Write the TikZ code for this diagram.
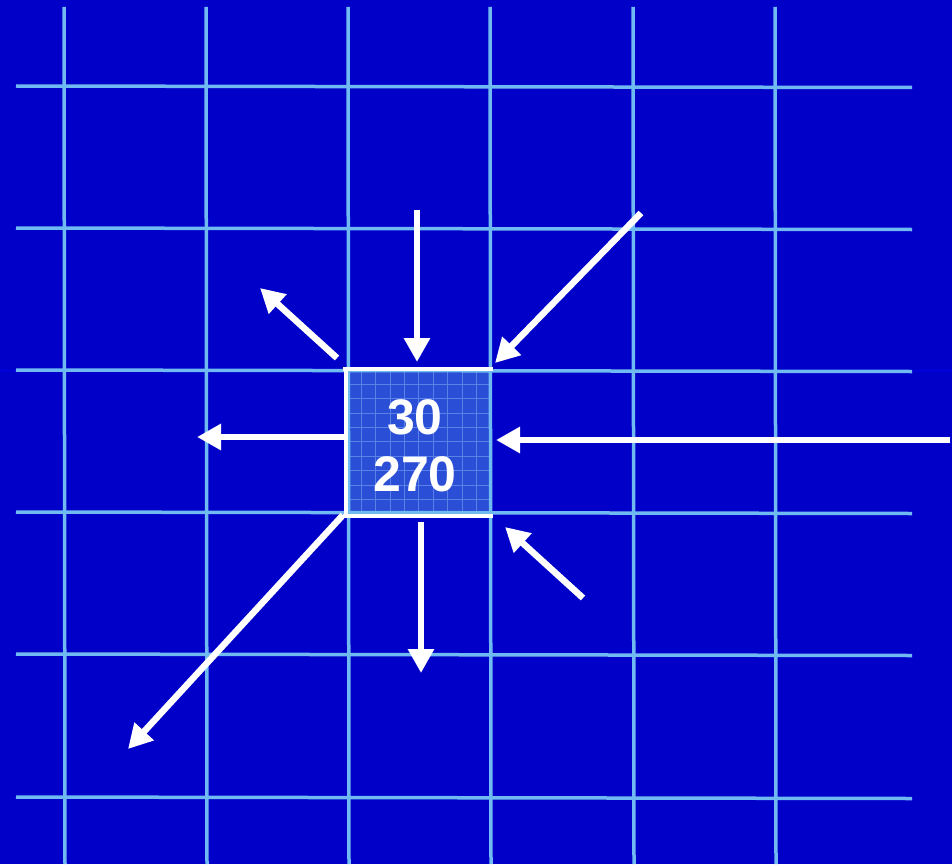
\documentclass[tikz,border=0pt]{standalone}
\usepackage{fontspec}
\setmainfont{Liberation Sans}
\usetikzlibrary{arrows.meta}
\definecolor{bg}{RGB}{0,0,200}
\definecolor{gridc}{RGB}{112,186,242}
\definecolor{cellc}{RGB}{42,78,214}
\definecolor{finegrid}{RGB}{90,130,230}
\begin{document}
\begin{tikzpicture}[x=1pt,y=-1pt,
  gridline/.style={gridc, line width=3.5pt},
  cellborder/.style={white, line width=4pt},
  arr/.style={white, line width=6.5pt, -{Triangle[length=24pt,width=25pt]}},
  num/.style={text=white, font=\fontsize{50}{50}\selectfont\bfseries, inner sep=0pt}]
\fill[bg] (0,0) rectangle (952,864);
\useasboundingbox (0,0) rectangle (952,864);
% faint full-width line
\draw[RGB/.style={}, color=blue!60!bg, line width=0.8pt] (0,370) -- (952,370);
% cell
\node[fill=cellc, minimum width=144pt, minimum height=144pt, inner sep=0pt] (cell) at (419,442) {};
\foreach \i in {1,...,9}{
  \draw[finegrid, line width=0.7pt] ([xshift=\i*14.4pt]cell.north west) -- ([xshift=\i*14.4pt]cell.south west);
  \draw[finegrid, line width=0.7pt] ([yshift=-\i*14.4pt]cell.north west) -- ([yshift=-\i*14.4pt]cell.north east);
}
% main grid
\foreach \x in {64,206,348,490,633,775}{
  \draw[gridline] (\x,7) -- (\x+1,864);
}
\foreach \y in {86,228,370,512,654,797}{
  \draw[gridline] (16,\y) -- (912,\y+1.5);
}
% white cell borders
\draw[cellborder] (343,368.5) -- (493,368.5);
\draw[cellborder] (345.5,367) -- (345.5,518);
\draw[cellborder] (343,516) -- (493,516);
% numbers
\node[num] (t30) at (415,417) {30};
\node[num] (t270) at (415,474) {270};
% arrows
\coordinate (a1s) at (417,210);  \coordinate (a1e) at (417,362);
\coordinate (a2s) at (641,213);  \coordinate (a2e) at (495,363);
\coordinate (a3s) at (337,358);  \coordinate (a3e) at (260,288);
\coordinate (a4s) at (344,437);  \coordinate (a4e) at (197,437);
\coordinate (a5s) at (950,440);  \coordinate (a5e) at (496,440);
\coordinate (a6s) at (343,515);  \coordinate (a6e) at (128,749);
\coordinate (a7s) at (421,522);  \coordinate (a7e) at (421,673);
\coordinate (a8s) at (583,598);  \coordinate (a8e) at (505,527);
\draw[arr] (a1s) -- (a1e);
\draw[arr] (a2s) -- (a2e);
\draw[arr] (a3s) -- (a3e);
\draw[arr] (a4s) -- (a4e);
\draw[arr] (a5s) -- (a5e);
\draw[arr] (a6s) -- (a6e);
\draw[arr] (a7s) -- (a7e);
\draw[arr] (a8s) -- (a8e);
\end{tikzpicture}
\end{document}
